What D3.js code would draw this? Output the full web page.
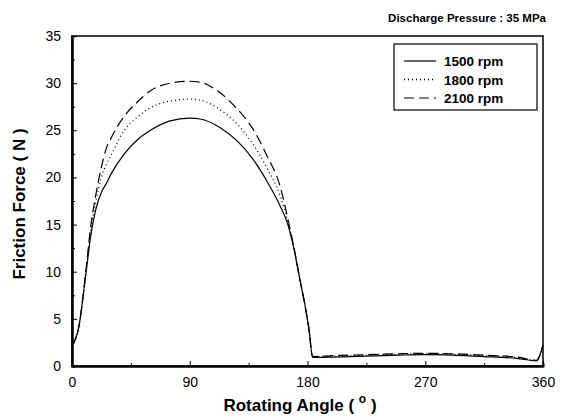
<!DOCTYPE html>
<html>
<head>
<meta charset="utf-8">
<script src="https://cdn.jsdelivr.net/npm/d3@7"></script>
<style>
  body { margin: 0; background: #fff; }
  svg { display: block; font-family: "Liberation Sans", Arial, sans-serif; }
</style>
</head>
<body>
<div id="chart"></div>
<script>
// rotating angle (deg) shared by all series
var angles = [0, 5, 11, 14, 18, 23, 26, 30, 40, 50, 60, 75, 90, 98, 113, 126, 138, 149, 159, 165, 170, 174, 178, 181, 184, 200, 225, 250, 270, 290, 315, 340, 355, 360];

// friction force (N) per speed
var rpm1500 = [2.2, 4.0, 10.2, 13.5, 16.5, 18.6, 19.3, 20.4, 22.5, 24.0, 25.0, 26.0, 26.3, 26.2, 25.3, 23.9, 22.0, 19.6, 17.0, 15.0, 12.2, 9.3, 6.5, 4.0, 0.9, 0.95, 1.05, 1.15, 1.2, 1.15, 1.0, 0.8, 0.55, 2.2];
var rpm1800 = [2.2, 4.0, 10.4, 14.0, 17.3, 20.3, 21.3, 22.4, 25.0, 26.4, 27.4, 28.1, 28.3, 28.2, 27.2, 25.7, 23.6, 21.0, 18.1, 15.3, 12.3, 9.3, 6.5, 4.0, 1.0, 1.05, 1.15, 1.25, 1.3, 1.25, 1.1, 0.9, 0.6, 2.2];
var rpm2100 = [2.2, 4.0, 10.6, 14.5, 18.0, 21.4, 23.0, 24.2, 26.5, 28.0, 29.2, 30.0, 30.2, 30.1, 29.0, 27.3, 25.2, 22.3, 19.1, 15.6, 12.3, 9.3, 6.5, 4.0, 1.0, 1.1, 1.2, 1.3, 1.35, 1.3, 1.15, 0.95, 0.6, 2.2];

var seriesNames = ["1500 rpm", "1800 rpm", "2100 rpm"];
var xTicks = [0, 90, 180, 270, 360];
var yTicks = [0, 5, 10, 15, 20, 25, 30, 35];

var width = 568, height = 420;
var margin = {top: 36, right: 25, bottom: 54, left: 72};

var svg = d3.select("#chart")
  .append("svg")
  .attr("width", width)
  .attr("height", height);

var x = d3.scaleLinear().domain([0, 360]).range([margin.left, width - margin.right]);
var y = d3.scaleLinear().domain([0, 35]).range([height - margin.bottom, margin.top]);

// frame
svg.append("rect")
  .attr("x", x(0)).attr("y", y(35))
  .attr("width", x(360) - x(0)).attr("height", y(0) - y(35))
  .attr("fill", "none").attr("stroke", "#000").attr("stroke-width", 1.5);

// axes, ticks pointing inwards
svg.append("g")
  .attr("transform", "translate(0," + y(0) + ")")
  .call(d3.axisBottom(x).tickValues(xTicks).tickSizeInner(-5).tickSizeOuter(0).tickPadding(11));
svg.append("g")
  .attr("transform", "translate(0," + y(0) + ")")
  .call(d3.axisBottom(x).tickValues([45, 135, 225, 315]).tickSize(-3).tickFormat(""));

svg.append("g")
  .attr("transform", "translate(" + x(0) + ",0)")
  .call(d3.axisLeft(y).tickValues(yTicks).tickSizeInner(-5).tickSizeOuter(0).tickPadding(11));
svg.append("g")
  .attr("transform", "translate(" + x(0) + ",0)")
  .call(d3.axisLeft(y).tickValues(d3.range(2.5, 35, 5)).tickSize(-3).tickFormat(""));

svg.selectAll(".domain").attr("stroke", "#000").attr("stroke-width", 2);
svg.selectAll(".tick line").attr("stroke", "#000");
svg.selectAll(".tick text").attr("font-size", 14).attr("fill", "#000")
  .attr("font-family", "'Liberation Sans', Arial, sans-serif");

// lines
var styles = [
  {dash: null, width: 1.2},
  {dash: "1,3", width: 1.3},
  {dash: "10,5", width: 1.2}
];
var allSeries = [rpm1500, rpm1800, rpm2100];

var line = d3.line()
  .x(function(d) { return x(d[0]); })
  .y(function(d) { return y(d[1]); })
  .curve(d3.curveMonotoneX);

allSeries.forEach(function(vals, i) {
  svg.append("path")
    .datum(angles.map(function(a, j) { return [a, vals[j]]; }))
    .attr("fill", "none")
    .attr("stroke", "#000")
    .attr("stroke-width", styles[i].width)
    .attr("stroke-dasharray", styles[i].dash)
    .attr("d", line);
});

// legend
var legend = svg.append("g").attr("transform", "translate(394,44)");
legend.append("rect")
  .attr("width", 143).attr("height", 66)
  .attr("fill", "#fff").attr("stroke", "#000").attr("stroke-width", 1.2);
seriesNames.forEach(function(name, i) {
  var ly = 17 + i * 18.5;
  legend.append("line")
    .attr("x1", 10).attr("x2", 42).attr("y1", ly).attr("y2", ly)
    .attr("stroke", "#000")
    .attr("stroke-width", styles[i].width)
    .attr("stroke-dasharray", styles[i].dash);
  legend.append("text")
    .attr("x", 50).attr("y", ly + 5)
    .attr("font-size", 13.5).attr("font-weight", "bold")
    .text(name);
});

// title
svg.append("text")
  .attr("x", 546).attr("y", 22)
  .attr("text-anchor", "end")
  .attr("font-size", 11.5).attr("font-weight", "bold")
  .text("Discharge Pressure : 35 MPa");

// axis titles
var xt = svg.append("text")
  .attr("x", 300).attr("y", 411)
  .attr("text-anchor", "middle")
  .attr("font-size", 17).attr("font-weight", "bold");
xt.append("tspan").text("Rotating Angle (  ");
xt.append("tspan").attr("font-size", 12).attr("dy", -8).text("o");
xt.append("tspan").attr("dy", 8).text("  )");

svg.append("text")
  .attr("transform", "translate(25," + ((y(0) + y(35)) / 2 + 3) + ") rotate(-90)")
  .attr("text-anchor", "middle")
  .attr("font-size", 17).attr("font-weight", "bold")
  .text("Friction Force ( N )");
</script>
</body>
</html>
